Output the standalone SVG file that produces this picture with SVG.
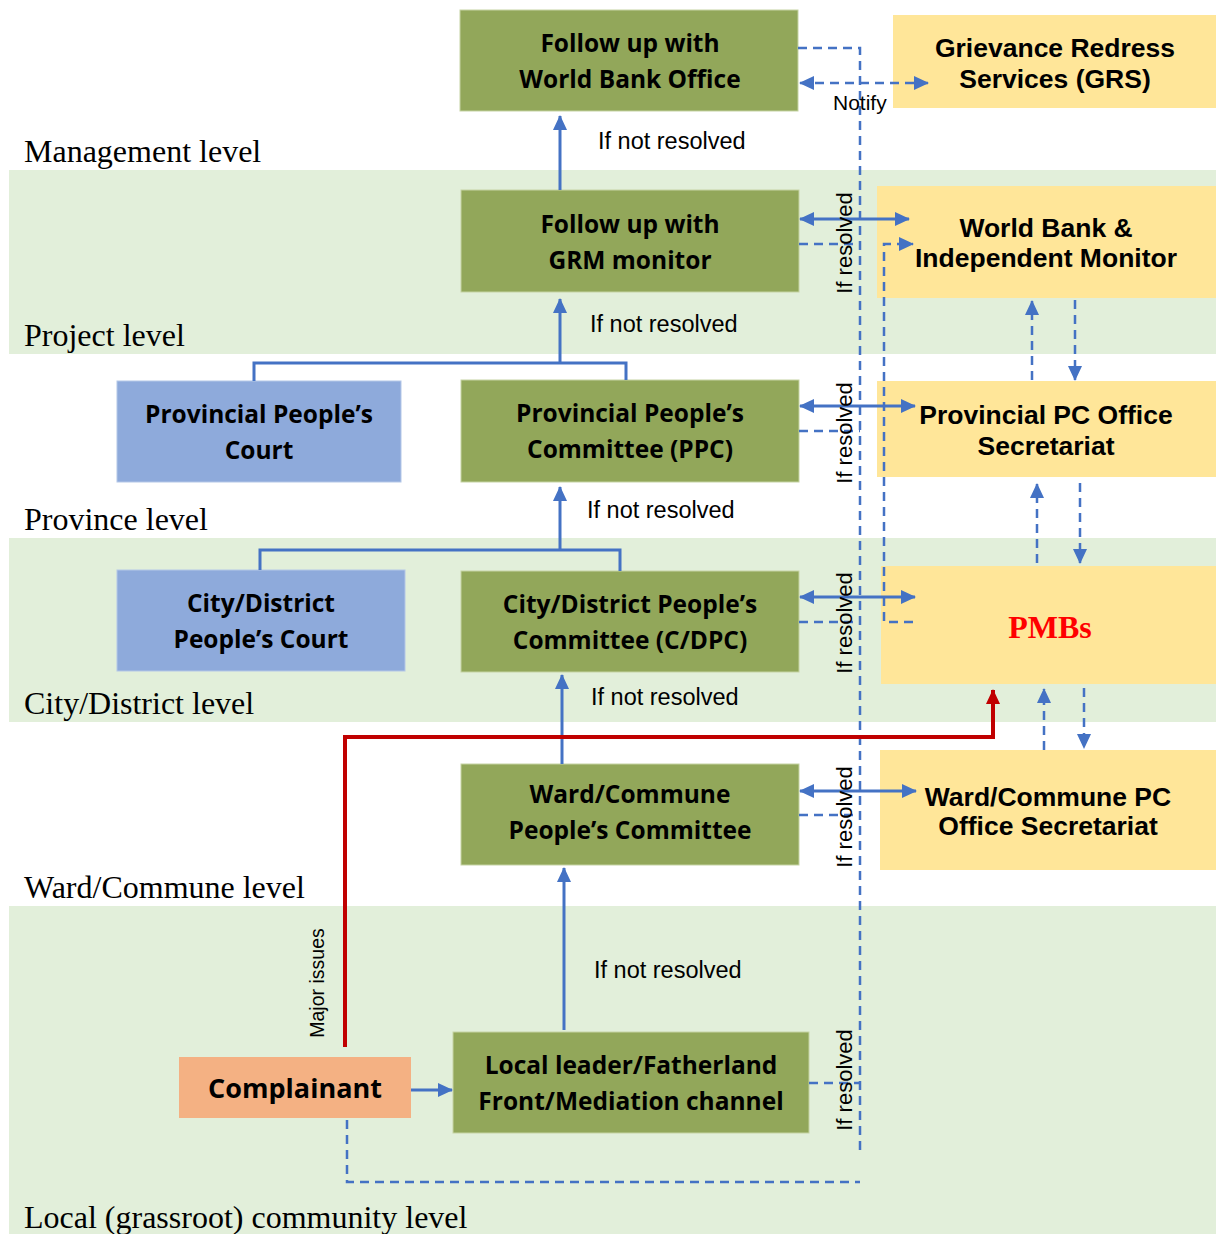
<svg xmlns="http://www.w3.org/2000/svg" width="1216" height="1234" viewBox="0 0 1216 1234">
<style>
.band{fill:#e2efda}
.lvl{font-family:"Liberation Serif","Times New Roman",serif;font-size:32px;fill:#000}
.g{fill:#92a75a;stroke:#c5d3a3;stroke-width:1}
.b{fill:#8eaadb;stroke:#b4c7e7;stroke-width:1}
.o{fill:#f4b183}
.y{fill:#ffe699}
.nt{font-family:"Open Sans",Lato,sans-serif;font-weight:bold;font-size:24.5px;fill:#000;text-anchor:middle}
.yt{font-family:"Liberation Sans",Arial,sans-serif;font-weight:bold;font-size:26.5px;fill:#000;text-anchor:middle}
.lbl{font-family:"Liberation Sans",Arial,sans-serif;font-size:23.5px;fill:#000}
.ifr{font-family:"Liberation Sans",Arial,sans-serif;font-size:22px;fill:#000;text-anchor:middle}
.s{stroke:#4472c4;stroke-width:3;fill:none}
.d{stroke:#4472c4;stroke-width:2.5;fill:none;stroke-dasharray:9 6}
</style>
<defs>
<marker id="ah" markerUnits="userSpaceOnUse" markerWidth="16" markerHeight="16" refX="14" refY="8" orient="auto-start-reverse"><path d="M0,1 L15,8 L0,15 Z" fill="#4472c4"/></marker>
<marker id="ahr" markerUnits="userSpaceOnUse" markerWidth="16" markerHeight="16" refX="14" refY="8" orient="auto"><path d="M0,1 L15,8 L0,15 Z" fill="#c00000"/></marker>
</defs>
<rect width="1216" height="1234" fill="#fff"/>
<g id="bands">
<rect class="band" x="9" y="170" width="1207" height="184"/>
<rect class="band" x="9" y="538" width="1207" height="184"/>
<rect class="band" x="9" y="906" width="1207" height="328"/>
<text class="lvl" x="24" y="162">Management level</text>
<text class="lvl" x="24" y="346">Project level</text>
<text class="lvl" x="24" y="530">Province level</text>
<text class="lvl" x="24" y="714">City/District level</text>
<text class="lvl" x="24" y="898">Ward/Commune level</text>
<text class="lvl" x="24" y="1228">Local (grassroot) community level</text>
</g>
<g id="wb-office"><rect class="g" x="460" y="10" width="338" height="101"/><text class="nt" x="630" y="52">Follow up with</text><text class="nt" x="630" y="88">World Bank Office</text></g>
<g id="grm"><rect class="g" x="461" y="190" width="338" height="102"/><text class="nt" x="630" y="233">Follow up with</text><text class="nt" x="630" y="269">GRM monitor</text></g>
<g id="ppc"><rect class="g" x="461" y="380" width="338" height="102"/><text class="nt" x="630" y="422">Provincial People’s</text><text class="nt" x="630" y="458">Committee (PPC)</text></g>
<g id="prov-court"><rect class="b" x="117" y="381" width="284" height="101"/><text class="nt" x="259" y="423">Provincial People’s</text><text class="nt" x="259" y="459">Court</text></g>
<g id="cdpc"><rect class="g" x="461" y="571" width="338" height="101"/><text class="nt" x="630" y="613">City/District People’s</text><text class="nt" x="630" y="649">Committee (C/DPC)</text></g>
<g id="city-court"><rect class="b" x="117" y="570" width="288" height="101"/><text class="nt" x="261" y="612">City/District</text><text class="nt" x="261" y="648">People’s Court</text></g>
<g id="ward"><rect class="g" x="461" y="764" width="338" height="101"/><text class="nt" x="630" y="803">Ward/Commune</text><text class="nt" x="630" y="839">People’s Committee</text></g>
<g id="local"><rect class="g" x="453" y="1032" width="356" height="101"/><text class="nt" x="631" y="1074">Local leader/Fatherland</text><text class="nt" x="631" y="1110">Front/Mediation channel</text></g>
<g id="complainant"><rect class="o" x="179" y="1057" width="232" height="61"/><text class="nt" x="295" y="1098" style="font-size:27px">Complainant</text></g>
<g id="grs"><rect class="y" x="893" y="15" width="323" height="93"/><text class="yt" x="1055" y="57">Grievance Redress</text><text class="yt" x="1055" y="88">Services (GRS)</text></g>
<g id="wb-monitor"><rect class="y" x="877" y="186" width="339" height="112"/><text class="yt" x="1046" y="237">World Bank &amp;</text><text class="yt" x="1046" y="267">Independent Monitor</text></g>
<g id="prov-pc"><rect class="y" x="877" y="381" width="339" height="96"/><text class="yt" x="1046" y="424">Provincial PC Office</text><text class="yt" x="1046" y="455">Secretariat</text></g>
<g id="pmbs"><rect class="y" x="881" y="566" width="335" height="118"/><text x="1050" y="638" text-anchor="middle" style="font-family:'Liberation Serif','Times New Roman',serif;font-weight:bold;font-size:32px;fill:#ff0000">PMBs</text></g>
<g id="ward-pc"><rect class="y" x="880" y="750" width="336" height="120"/><text class="yt" x="1048" y="806">Ward/Commune PC</text><text class="yt" x="1048" y="835">Office Secretariat</text></g>
<g id="connectors">
<path class="s" d="M560,190 V116" marker-end="url(#ah)"/>
<path class="s" d="M560,363 V299" marker-end="url(#ah)"/>
<path class="s" d="M254,381 V363 H626 V380"/>
<path class="s" d="M560,550 V487" marker-end="url(#ah)"/>
<path class="s" d="M260,570 V550 H620 V571"/>
<path class="s" d="M562,764 V675" marker-end="url(#ah)"/>
<path class="s" d="M564,1030 V868" marker-end="url(#ah)"/>
<path class="s" d="M411,1090 H452" marker-end="url(#ah)"/>
<path class="s" d="M800,219 H909" marker-start="url(#ah)" marker-end="url(#ah)"/>
<path class="s" d="M800,406 H915" marker-start="url(#ah)" marker-end="url(#ah)"/>
<path class="s" d="M800,597 H915" marker-start="url(#ah)" marker-end="url(#ah)"/>
<path class="s" d="M800,791 H916" marker-start="url(#ah)" marker-end="url(#ah)"/>
<path class="d" d="M798,48 H860 V1150"/>
<path class="d" d="M800,83 H928" marker-start="url(#ah)" marker-end="url(#ah)"/>
<path class="d" d="M799,244 H860"/>
<path class="d" d="M799,431 H860"/>
<path class="d" d="M799,622 H860"/>
<path class="d" d="M799,815 H860"/>
<path class="d" d="M809,1083 H860"/>
<path class="d" d="M347,1120 V1182 H860"/>
<path class="d" d="M913,622 H884 V244 H913" marker-end="url(#ah)"/>
<path class="d" d="M1032,380 V301" marker-end="url(#ah)"/>
<path class="d" d="M1075,300 V380" marker-end="url(#ah)"/>
<path class="d" d="M1037,563 V484" marker-end="url(#ah)"/>
<path class="d" d="M1080,483 V563" marker-end="url(#ah)"/>
<path class="d" d="M1044,750 V689" marker-end="url(#ah)"/>
<path class="d" d="M1084,688 V748" marker-end="url(#ah)"/>
<path d="M345,1047 V737 H993 V690" fill="none" stroke="#c00000" stroke-width="4" marker-end="url(#ahr)"/>
<text class="lbl" x="598" y="149">If not resolved</text>
<text class="lbl" x="590" y="332">If not resolved</text>
<text class="lbl" x="587" y="518">If not resolved</text>
<text class="lbl" x="591" y="705">If not resolved</text>
<text class="lbl" x="594" y="978">If not resolved</text>
<text class="lbl" x="833" y="110" style="font-size:21px">Notify</text>
<text class="ifr" transform="translate(852,243) rotate(-90)">If resolved</text>
<text class="ifr" transform="translate(852,433) rotate(-90)">If resolved</text>
<text class="ifr" transform="translate(852,623) rotate(-90)">If resolved</text>
<text class="ifr" transform="translate(852,817) rotate(-90)">If resolved</text>
<text class="ifr" transform="translate(852,1080) rotate(-90)">If resolved</text>
<text class="ifr" transform="translate(324,983) rotate(-90)" style="font-size:19.5px">Major issues</text>
</g>
</svg>
